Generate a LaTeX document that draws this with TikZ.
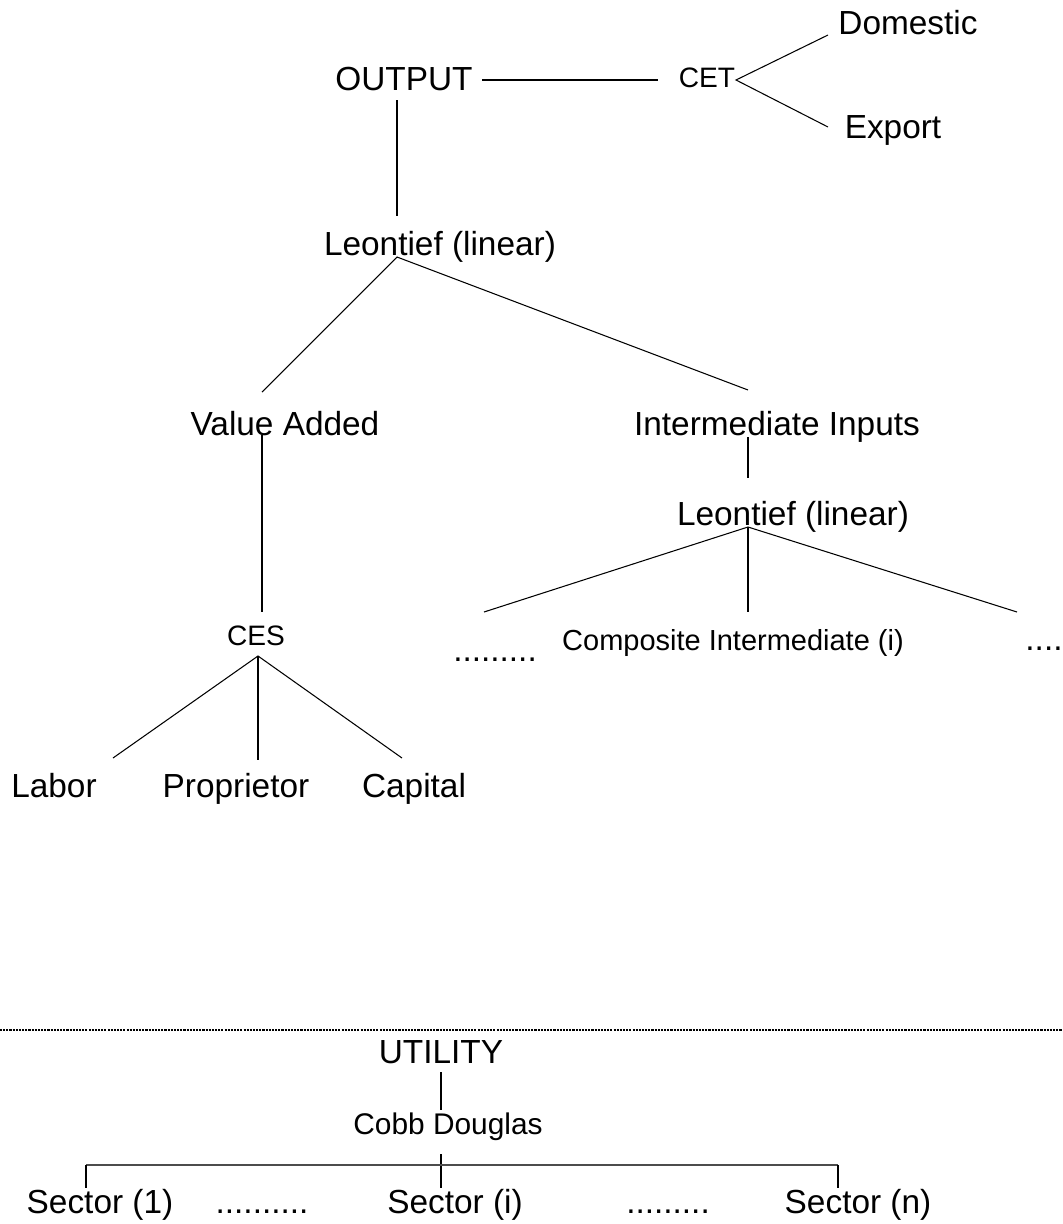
\documentclass[tikz,border=0pt]{standalone}
\usepackage{fontspec}
\setmainfont{Liberation Sans}
\begin{document}
\begin{tikzpicture}[x=0.02cm,y=-0.02cm,
  lbl/.style={inner sep=0pt,anchor=base,font=\fontsize{19}{22}\selectfont},
  sml/.style={inner sep=0pt,anchor=base,font=\fontsize{16}{19}\selectfont},
  mid/.style={inner sep=0pt,anchor=base,font=\fontsize{17}{20}\selectfont},
  cmp/.style={inner sep=0pt,anchor=base,font=\fontsize{16.5}{20}\selectfont},
  conn/.style={line width=0.6pt,black},
  sep/.style={line width=0.8pt,dash pattern=on 1.2pt off 0.6pt}]
\useasboundingbox (0,0) rectangle (1062,1224);
% nodes
\node[lbl] (output) at (404,90) {OUTPUT};
\node[sml] (cet) at (707,87) {CET};
\node[lbl] (dom) at (908,34) {Domestic};
\node[lbl] (exp) at (893,138) {Export};
\node[lbl] (leon1) at (440,255) {Leontief (linear)};
\node[lbl] (va) at (285,435) {Value Added};
\node[lbl] (ii) at (777,435) {Intermediate Inputs};
\node[lbl] (leon2) at (793,525) {Leontief (linear)};
\node[lbl] (dots1) at (495,661) {.........};
\node[cmp] (comp) at (733,650) {Composite Intermediate (i)};
\node[lbl] (dots2) at (1044,650) {....};
\node[sml] (ces) at (256,645) {CES};
\node[lbl] (labor) at (54,797) {Labor};
\node[lbl] (prop) at (236,797) {Proprietor};
\node[lbl] (cap) at (414,797) {Capital};
\node[lbl] (util) at (441,1063) {UTILITY};
\node[mid] (cobb) at (448,1134) {Cobb Douglas};
\node[lbl] (s1) at (100,1213) {Sector (1)};
\node[lbl] (dotsa) at (262,1213) {..........};
\node[lbl] (si) at (455,1213) {Sector (i)};
\node[lbl] (dotsb) at (668,1213) {.........};
\node[lbl] (sn) at (858,1213) {Sector (n)};
% connector points
\coordinate (output-e) at (482,80);
\coordinate (cet-w) at (658,80);
\coordinate (cet-v) at (736,80);
\coordinate (dom-w) at (828,35);
\coordinate (exp-w) at (828,127);
\coordinate (output-s) at (397,100);
\coordinate (leon1-n) at (397,216);
\coordinate (leon1-v) at (397,257);
\coordinate (va-n) at (262,392);
\coordinate (ii-n) at (748,390);
\coordinate (va-s) at (262,435);
\coordinate (ces-n) at (262,612);
\coordinate (ces-v) at (258,656);
\coordinate (labor-n) at (113,758);
\coordinate (prop-n) at (258,760);
\coordinate (cap-n) at (402,758);
\coordinate (ii-s) at (748,437);
\coordinate (leon2-n) at (748,478);
\coordinate (leon2-v) at (748,527);
\coordinate (dots1-n) at (484,612);
\coordinate (comp-n) at (748,612);
\coordinate (dots2-n) at (1017,612);
\coordinate (util-s) at (441,1072);
\coordinate (cobb-n) at (441,1110);
\coordinate (cobb-s) at (441,1154);
\coordinate (bar-l) at (86,1165);
\coordinate (bar-r) at (838,1165);
\coordinate (s1-n) at (86,1188);
\coordinate (si-n) at (441,1188);
\coordinate (sn-n) at (838,1188);
\coordinate (sep-l) at (0,1030);
\coordinate (sep-r) at (1062,1030);
% connectors
\draw[conn] (output-e) -- (cet-w);
\draw[conn] (dom-w) -- (cet-v) -- (exp-w);
\draw[conn] (output-s) -- (leon1-n);
\draw[conn] (va-n) -- (leon1-v) -- (ii-n);
\draw[conn] (va-s) -- (ces-n);
\draw[conn] (labor-n) -- (ces-v) -- (cap-n);
\draw[conn] (ces-v) -- (prop-n);
\draw[conn] (ii-s) -- (leon2-n);
\draw[conn] (dots1-n) -- (leon2-v) -- (dots2-n);
\draw[conn] (leon2-v) -- (comp-n);
\draw[sep] (sep-l) -- (sep-r);
\draw[conn] (util-s) -- (cobb-n);
\draw[conn] (cobb-s) -- (si-n);
\draw[conn,black!70,line width=0.8pt] (bar-l) -- (bar-r);
\draw[conn] (bar-l) -- (s1-n);
\draw[conn] (bar-r) -- (sn-n);
\end{tikzpicture}
\end{document}
